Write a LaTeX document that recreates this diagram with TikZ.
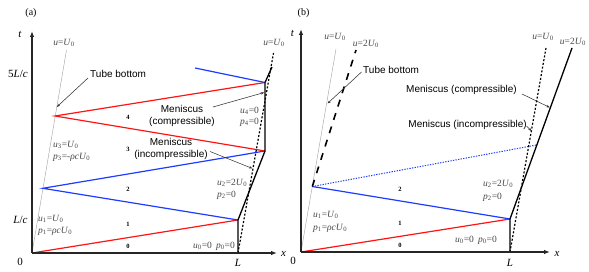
\documentclass[tikz,border=0pt]{standalone}
\usepackage{fontspec}
\setmainfont{Liberation Serif}
\setsansfont{Liberation Sans}
\usetikzlibrary{arrows.meta}
\definecolor{myred}{RGB}{255,20,20}
\definecolor{myblue}{RGB}{30,60,255}
\definecolor{labgray}{RGB}{70,70,70}
\newcommand\myu[1]{\textit{u}\textsubscript{#1}}
\newcommand\myp[1]{\textit{p}\textsubscript{#1}}
\newcommand\myU{\textit{U}\textsubscript{0}}
\tikzset{
  axis/.style={line width=1.1pt, black!85, -{Latex[length=6pt,width=4.5pt]}},
  tube/.style={line width=0.45pt, gray!70},
  redl/.style={line width=1.2pt, myred},
  bluel/.style={line width=1.2pt, myblue},
  bluedot/.style={line width=1pt, myblue, dash pattern=on 1.3pt off 1.3pt},
  men/.style={line width=1.3pt, black},
  mendot/.style={line width=1.2pt, black, dash pattern=on 2pt off 1.8pt},
  thickdash/.style={line width=1.6pt, black, dash pattern=on 7pt off 7pt},
  annot/.style={line width=0.55pt, black!80, -{Stealth[length=3.5pt,width=2.6pt]}},
  lab/.style={font=\fontsize{9.5}{11}\selectfont, text=labgray, inner sep=0pt, align=left},
  sflab/.style={font=\sffamily\fontsize{10}{11.5}\selectfont, inner sep=0pt, align=center},
  num/.style={font=\bfseries\fontsize{6.5}{7}\selectfont, inner sep=0pt},
  axlab/.style={font=\fontsize{11}{12}\selectfont, inner sep=0pt},
}
\begin{document}
\begin{tikzpicture}[x=1pt,y=-1pt]
\useasboundingbox (0,0) rectangle (589,272);
% ================= panel (a) =================
\coordinate (Oa) at (32,253);
\coordinate (Xa) at (277,253);
\coordinate (Ta) at (32,31);
\coordinate (La) at (238,253);
\coordinate (TubeTopA) at (66.5,50);
\coordinate (A1) at (238,220);
\coordinate (B1) at (42.8,188.3);
\coordinate (A2) at (265,151);
\coordinate (B2) at (55,116);
\coordinate (A3) at (265,82.5);
\coordinate (BlueEndA) at (195,68);
\coordinate (MenTopA) at (272,67);
\coordinate (DotTopA) at (273.5,53);

\draw[tube] (Oa) -- (TubeTopA);
\draw[redl] (Oa) -- (A1);
\draw[bluel] (A1) -- (B1) -- (A2);
\draw[redl] (A2) -- (B2) -- (A3);
\draw[bluel] (A3) -- (BlueEndA);
\draw[mendot] (La) -- (DotTopA);
\draw[men] (La) -- (A1) -- (A2) -- (A3) -- (MenTopA);
\draw[axis] (Oa) -- (Xa);
\draw[axis] (Oa) -- (Ta);

\node[font=\fontsize{10}{11}\selectfont, inner sep=0pt] (labA) at (31,13) {(a)};
\node[axlab] (tA) at (20,34) {\textit{t}};
\node[axlab] (xA) at (283.5,254) {\textit{x}};
\node[axlab] (zeroA) at (20,261.5) {0};
\node[axlab] (LA) at (238,263) {\textit{L}};
\node[axlab] (fiveLc) at (18,74) {5\textit{L}/\textit{c}};
\node[axlab] (Lc) at (20.5,220) {\textit{L}/\textit{c}};

\node[lab] (uUa1) at (64,43) {\textit{u}=\myU};
\node[lab] (uUa2) at (274,43) {\textit{u}=\myU};

\node[sflab, anchor=west] (tubeA) at (90,74) {Tube bottom};
\coordinate (tubeAend) at (56.8,107);
\draw[annot] (88,78) -- (tubeAend);

\node[sflab] (menCa) at (182,116) {Meniscus\\(compressible)};
\coordinate (menCaEnd) at (264.2,92.5);
\draw[annot] (213,107) -- (menCaEnd);

\node[sflab] (menIa) at (171,149) {Meniscus\\(incompressible)};
\coordinate (menIaEnd) at (252.5,168.5);
\draw[annot] (210,151.5) -- (menIaEnd);

\node[num] (n4a) at (128,117) {4};
\node[num] (n3a) at (128,149) {3};
\node[num] (n2a) at (128,189) {2};
\node[num] (n1a) at (128,224) {1};
\node[num] (n0a) at (128,246) {0};

\node[lab, anchor=west] (u4) at (240,111) {\myu{4}=0};
\node[lab, anchor=west] (p4) at (240,122.5) {\myp{4}=0};
\node[lab, anchor=west] (u3) at (53,145) {\myu{3}=\myU};
\node[lab, anchor=west] (p3) at (53,157) {\myp{3}=-\textit{ρc}\myU};
\node[lab, anchor=west] (u2a) at (217,183) {\myu{2}=2\myU};
\node[lab, anchor=west] (p2a) at (217,195) {\myp{2}=0};
\node[lab, anchor=west] (u1a) at (38,219) {\myu{1}=\myU};
\node[lab, anchor=west] (p1a) at (38,231) {\myp{1}=\textit{ρc}\myU};
\node[lab, anchor=west] (u0a) at (193,246.5) {\myu{0}=0\hspace{0.45em}\myp{0}=0};

% ================= panel (b) =================
\coordinate (Ob) at (301,252);
\coordinate (Xb) at (550,252);
\coordinate (Tb) at (301,29);
\coordinate (Lb) at (510,252);
\coordinate (TubeTopB) at (336,49);
\coordinate (C1) at (510,219);
\coordinate (D1) at (312.3,186.5);
\coordinate (DotBlueEnd) at (536.5,145);
\coordinate (DashTop) at (356,50);
\coordinate (MenTopB) at (572,48);
\coordinate (DotTopB) at (546,48);

\draw[tube] (Ob) -- (TubeTopB);
\draw[redl] (Ob) -- (C1);
\draw[bluel] (C1) -- (D1);
\draw[bluedot] (D1) -- (DotBlueEnd);
\draw[thickdash] (D1) -- (DashTop);
\draw[mendot] (Lb) -- (DotTopB);
\draw[men] (Lb) -- (C1) -- (MenTopB);
\draw[axis] (Ob) -- (Xb);
\draw[axis] (Ob) -- (Tb);

\node[font=\fontsize{10}{11}\selectfont, inner sep=0pt] (labB) at (303.5,13) {(b)};
\node[axlab] (tB) at (292.5,33) {\textit{t}};
\node[axlab] (xB) at (557,253.5) {\textit{x}};
\node[axlab] (zeroB) at (293,261) {0};
\node[axlab] (LB) at (510,262.5) {\textit{L}};

\node[lab] (uUb1) at (335,37) {\textit{u}=\myU};
\node[lab] (u2Ub1) at (366,44) {\textit{u}=2\myU};
\node[lab] (uUb2) at (543,37) {\textit{u}=\myU};
\node[lab] (u2Ub2) at (573,42) {\textit{u}=2\myU};

\node[sflab, anchor=west] (tubeB) at (363,70) {Tube bottom};
\coordinate (tubeBend) at (327.5,103.5);
\draw[annot] (361.5,72) -- (tubeBend);

\node[sflab, anchor=east] (menCb) at (517,90) {Meniscus (compressible)};
\coordinate (menCbEnd) at (549.8,107.5);
\draw[annot] (522,94) -- (menCbEnd);

\node[sflab, anchor=east] (menIb) at (527,125) {Meniscus (incompressible)};
\coordinate (menIbEnd) at (531.5,131);
\draw[annot] (526.5,126) -- (menIbEnd);

\node[num] (n2b) at (400,189) {2};
\node[num] (n1b) at (400,223) {1};
\node[num] (n0b) at (400,245) {0};

\node[lab, anchor=west] (u2b) at (483,184) {\myu{2}=2\myU};
\node[lab, anchor=west] (p2b) at (483,197) {\myp{2}=0};
\node[lab, anchor=west] (u1b) at (313,215) {\myu{1}=\myU};
\node[lab, anchor=west] (p1b) at (313,228) {\myp{1}=\textit{ρc}\myU};
\node[lab, anchor=west] (u0b) at (455,240) {\myu{0}=0\hspace{0.45em}\myp{0}=0};
\end{tikzpicture}
\end{document}
